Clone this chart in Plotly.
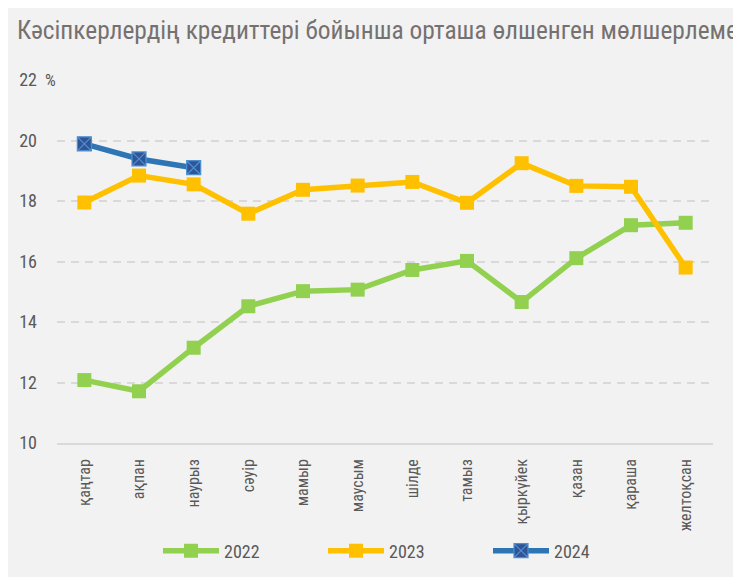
import plotly.graph_objects as go

months = ["қаңтар", "ақпан", "наурыз", "сәуір", "мамыр", "маусым",
          "шілде", "тамыз", "қыркүйек", "қазан", "қараша", "желтоқсан"]
v2022 = [12.08, 11.71, 13.15, 14.52, 15.02, 15.07, 15.72, 16.02, 14.66, 16.11, 17.20, 17.28]
v2023 = [17.95, 18.84, 18.55, 17.58, 18.37, 18.51, 18.63, 17.94, 19.25, 18.50, 18.47, 15.80]
v2024 = [19.89, 19.39, 19.10]
ytick_vals = [10, 12, 14, 16, 18, 20, 22]
ytick_text = ["10", "12", "14", "16", "18", "20", "22"]
title_text = "Кәсіпкерлердің кредиттері бойынша орташа өлшенген мөлшерлеме"

FONT = "Roboto Condensed, DejaVu Sans Condensed, Liberation Sans Narrow, Roboto"
W, H = 741, 577
L, R, T, B = 49, 36, 72, 142
pw, ph = W - L - R, H - T - B

fig = go.Figure()
fig.add_trace(go.Scatter(x=months, y=v2022, name="2022", mode="lines+markers",
                         line=dict(color="#92D050", width=5.5),
                         marker=dict(symbol="square", size=14, color="#92D050")))
fig.add_trace(go.Scatter(x=months, y=v2023, name="2023", mode="lines+markers",
                         line=dict(color="#FFC000", width=5.5),
                         marker=dict(symbol="square", size=14, color="#FFC000")))
fig.add_trace(go.Scatter(x=months[:len(v2024)], y=v2024, name="2024", mode="lines+markers",
                         line=dict(color="#2E75B6", width=5.5),
                         marker=dict(symbol="square-x", size=14, color="#2F5597",
                                     line=dict(color="#4F8FD0", width=1.2))))

fig.add_annotation(xref="paper", yref="paper", x=(35 - L) / pw, y=1.0,
                   text="%", showarrow=False, xanchor="left", yanchor="middle",
                   font=dict(family=FONT, size=17, color="#595959"))

fig.update_layout(
    width=W, height=H,
    margin=dict(l=L, r=R, t=T, b=B, autoexpand=False),
    paper_bgcolor="#F2F2F2", plot_bgcolor="#F2F2F2",
    font=dict(family=FONT, color="#595959"),
    title=dict(text=title_text, x=9 / W, xanchor="left", y=1 - 22 / H, yanchor="middle",
               font=dict(family=FONT, size=25.4, color="#767171")),
    showlegend=True,
    legend=dict(orientation="h", x=(150 - L) / pw, xanchor="left", y=-(108) / ph,
                yanchor="middle",
                font=dict(family=FONT, size=18, color="#595959"),
                bgcolor="rgba(0,0,0,0)", itemwidth=56, entrywidth=94,
                entrywidthmode="pixels"),
    xaxis=dict(range=[-0.5, 11.5], showgrid=False, showline=True, linecolor="#D9D9D9",
               linewidth=1.5, tickangle=-90,
               tickfont=dict(family=FONT, size=16, color="#595959"),
               ticks="", automargin=False, ticklabelstandoff=8),
    yaxis=dict(range=[10, 22], tickvals=ytick_vals, ticktext=ytick_text,
               showgrid=True, gridcolor="#D9D9D9", griddash="8px,6px", gridwidth=1.5,
               zeroline=False, ticks="", ticklabelstandoff=19, automargin=False,
               tickfont=dict(family=FONT, size=18, color="#595959")),
)

fig.write_html("out.html")
